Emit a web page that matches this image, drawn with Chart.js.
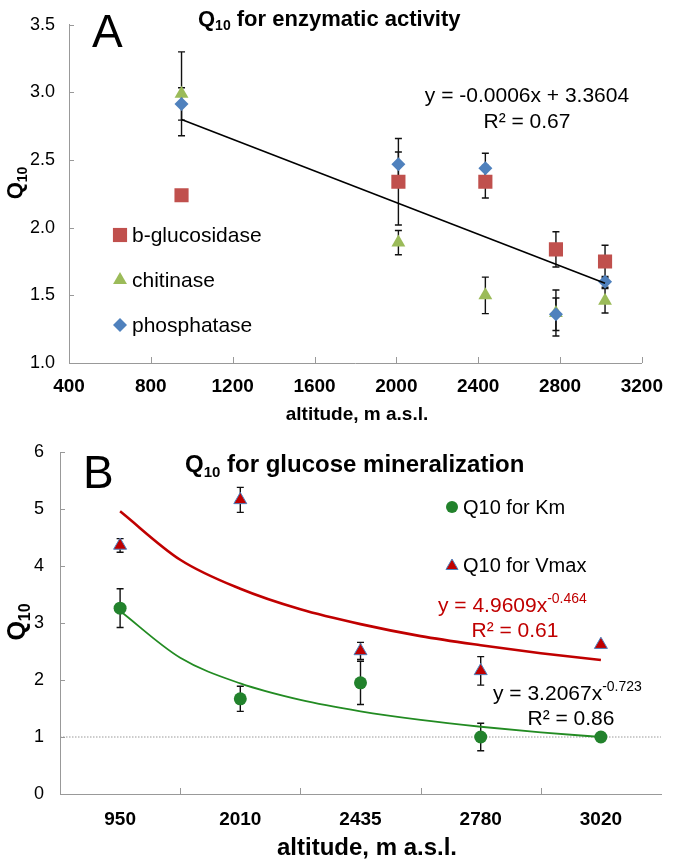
<!DOCTYPE html>
<html>
<head>
<meta charset="utf-8">
<script src="https://cdn.jsdelivr.net/npm/chart.js@4"></script>
<style>
  html, body { margin: 0; padding: 0; background: #fff; }
  #wrap { position: relative; width: 675px; height: 864px; }
  canvas { position: absolute; left: 0; }
  #chartA { top: 0; }
  #chartB { top: 425px; }
</style>
</head>
<body>
<div id="wrap">
  <canvas id="chartA" width="675" height="425"></canvas>
  <canvas id="chartB" width="675" height="439"></canvas>
</div>
<script>
const FONT = "'Liberation Sans', Arial, sans-serif";
Chart.defaults.font.family = FONT;
Chart.defaults.color = '#000';

// ---- panel A: Q10 of enzymes vs altitude
const altitudes = [950, 2010, 2435, 2780, 3020];
const glucosidase = [2.24, 2.34, 2.34, 1.84, 1.75];
const glucosidaseErr = [0, 0.32, 0.12, 0.13, 0.12];
const chitinase = [2.99, 1.89, 1.50, 1.37, 1.46];
const chitinaseErr = [0.31, 0.09, 0.135, 0.17, 0.09];
const phosphatase = [2.915, 2.47, 2.44, 1.36, 1.60];
const phosphataseErr = [0.12, 0.09, 0.11, 0.12, 0.04];
const trendX = [950, 3020];
const trendY = [2.80, 1.59];
const ticksAX = [400, 800, 1200, 1600, 2000, 2400, 2800, 3200];
const ticksAY = [1.0, 1.5, 2.0, 2.5, 3.0, 3.5];

// ---- panel B: Q10 of glucose mineralization
const sites = ['950', '2010', '2435', '2780', '3020'];
const kmQ10 = [3.26, 1.67, 1.95, 1.00, 1.00];
const kmErr = [0.34, 0.22, 0.38, 0.24, 0];
const vmaxQ10 = [4.36, 5.16, 2.51, 2.16, 2.62];
const vmaxErr = [0.12, 0.22, 0.15, 0.25, 0];
const fitPos = [1, 1.5, 2, 2.5, 3, 3.5, 4, 4.5, 5];
const vmaxFit = [4.96, 4.11, 3.60, 3.24, 2.98, 2.77, 2.61, 2.47, 2.35];
const kmFit = [3.21, 2.39, 1.94, 1.65, 1.45, 1.30, 1.18, 1.08, 1.00];
const ticksBY = [0, 1, 2, 3, 4, 5, 6];

const RED = '#C0504D', GREEN = '#9BBB59', BLUE = '#4F81BD';
const KM_GREEN = '#22822C', VMAX_RED = '#C00000';

function pts(xs, ys) {
  return xs.map((x, i) => ({ x: x, y: ys[i] }));
}

// text made of pieces: [text, size, weight, dy]
function rich(ctx, parts, x, y, align) {
  let w = 0;
  parts.forEach(p => {
    ctx.font = (p[2] || 'normal') + ' ' + p[1] + 'px ' + FONT;
    w += ctx.measureText(p[0]).width;
  });
  let cx = align === 'center' ? x - w / 2 : x;
  parts.forEach(p => {
    ctx.font = (p[2] || 'normal') + ' ' + p[1] + 'px ' + FONT;
    ctx.fillText(p[0], cx, y + (p[3] || 0));
    cx += ctx.measureText(p[0]).width;
  });
}

function marker(ctx, style, r, fill, stroke, bw, x, y) {
  ctx.save();
  ctx.fillStyle = fill;
  ctx.strokeStyle = stroke || fill;
  Chart.helpers.drawPoint(ctx, { pointStyle: style, radius: r, rotation: 0, borderWidth: bw || 0 }, x, y);
  ctx.restore();
}

const errorBars = {
  id: 'errorBars',
  beforeDatasetsDraw(chart) {
    const { ctx, scales: { x, y } } = chart;
    ctx.save();
    ctx.strokeStyle = '#111';
    ctx.lineWidth = 1.4;
    chart.data.datasets.forEach(ds => {
      if (!ds.errors) return;
      ds.data.forEach((p, i) => {
        const e = ds.errors[i];
        if (!e) return;
        const px = x.getPixelForValue(p.x);
        const top = y.getPixelForValue(p.y + e);
        const bot = y.getPixelForValue(p.y - e);
        ctx.beginPath();
        ctx.moveTo(px, top); ctx.lineTo(px, bot);
        ctx.moveTo(px - 3.5, top); ctx.lineTo(px + 3.5, top);
        ctx.moveTo(px - 3.5, bot); ctx.lineTo(px + 3.5, bot);
        ctx.stroke();
      });
    });
    ctx.restore();
  }
};

// excel style tick marks pointing into the plot
const inwardTicks = {
  id: 'inwardTicks',
  afterDraw(chart, args, opts) {
    const { ctx, chartArea: a, scales: { x, y } } = chart;
    ctx.save();
    ctx.strokeStyle = '#999';
    ctx.lineWidth = 1;
    ctx.beginPath();
    (opts.x || []).forEach(v => {
      const px = Math.round(x.getPixelForValue(v)) + 0.5;
      ctx.moveTo(px, a.bottom); ctx.lineTo(px, a.bottom - 6);
    });
    (opts.y || []).forEach(v => {
      const py = Math.round(y.getPixelForValue(v)) + 0.5;
      ctx.moveTo(a.left, py); ctx.lineTo(a.left + 5, py);
    });
    ctx.stroke();
    ctx.restore();
  }
};

const notesA = {
  id: 'notesA',
  afterDraw(chart) {
    const ctx = chart.ctx;
    ctx.save();
    ctx.fillStyle = '#000';
    ctx.textAlign = 'left';
    ctx.textBaseline = 'alphabetic';
    rich(ctx, [['A', 46]], 92, 47);
    rich(ctx, [['Q', 22, 'bold'], ['10', 14, 'bold', 4], [' for enzymatic activity', 22, 'bold']], 198, 26);
    rich(ctx, [['y = -0.0006x + 3.3604', 21]], 527, 102, 'center');
    rich(ctx, [['R² = 0.67', 21]], 527, 128, 'center');
    rich(ctx, [['altitude, m a.s.l.', 19, 'bold']], 357, 420, 'center');

    ctx.save();
    ctx.translate(22, 183);
    ctx.rotate(-Math.PI / 2);
    rich(ctx, [['Q', 22, 'bold'], ['10', 14, 'bold', 5]], 0, 0, 'center');
    ctx.restore();

    // legend
    const rows = [
      ['b-glucosidase', 'rect', 10, RED, 235],
      ['chitinase', 'triangle', 8, GREEN, 280],
      ['phosphatase', 'rectRot', 7, BLUE, 325]
    ];
    rows.forEach(r => {
      marker(ctx, r[1], r[2], r[3], null, 0, 120, r[4]);
      ctx.fillStyle = '#000';
      ctx.textBaseline = 'middle';
      rich(ctx, [[r[0], 21]], 132, r[4] + 1);
      ctx.textBaseline = 'alphabetic';
    });
    ctx.restore();
  }
};

const notesB = {
  id: 'notesB',
  afterDraw(chart) {
    const ctx = chart.ctx;
    ctx.save();
    ctx.fillStyle = '#000';
    ctx.textAlign = 'left';
    ctx.textBaseline = 'alphabetic';
    rich(ctx, [['B', 46]], 83, 63);
    rich(ctx, [['Q', 24, 'bold'], ['10', 15, 'bold', 5], [' for glucose mineralization', 24, 'bold']], 185, 47);
    rich(ctx, [['altitude, m a.s.l.', 24, 'bold']], 367, 430, 'center');

    ctx.save();
    ctx.translate(25, 197);
    ctx.rotate(-Math.PI / 2);
    rich(ctx, [['Q', 25, 'bold'], ['10', 16, 'bold', 5]], 0, 0, 'center');
    ctx.restore();

    // legend
    marker(ctx, 'circle', 6, KM_GREEN, null, 0, 452, 82);
    marker(ctx, 'triangle', 7, VMAX_RED, BLUE, 1, 452, 141);
    ctx.fillStyle = '#000';
    ctx.textBaseline = 'middle';
    rich(ctx, [['Q10 for Km', 20]], 463, 83);
    rich(ctx, [['Q10 for Vmax', 20]], 463, 141);
    ctx.textBaseline = 'alphabetic';

    ctx.fillStyle = VMAX_RED;
    rich(ctx, [['y = 4.9609x', 21], ['-0.464', 14, 'normal', -9]], 438, 187);
    rich(ctx, [['R² = 0.61', 21]], 515, 212, 'center');
    ctx.fillStyle = '#000';
    rich(ctx, [['y = 3.2067x', 21], ['-0.723', 14, 'normal', -9]], 493, 275);
    rich(ctx, [['R² = 0.86', 21]], 571, 300, 'center');
    ctx.restore();
  }
};

new Chart(document.getElementById('chartA'), {
  type: 'scatter',
  data: {
    datasets: [
      {
        type: 'line', label: 'trend', data: pts(trendX, trendY),
        borderColor: '#000', borderWidth: 1.6, pointRadius: 0, order: 0
      },
      {
        label: 'phosphatase', data: pts(altitudes, phosphatase), errors: phosphataseErr,
        pointStyle: 'rectRot', pointRadius: 7, backgroundColor: BLUE, borderColor: BLUE, borderWidth: 0, order: 1
      },
      {
        label: 'chitinase', data: pts(altitudes, chitinase), errors: chitinaseErr,
        pointStyle: 'triangle', pointRadius: 8, backgroundColor: GREEN, borderColor: GREEN, borderWidth: 0, order: 2
      },
      {
        label: 'b-glucosidase', data: pts(altitudes, glucosidase), errors: glucosidaseErr,
        pointStyle: 'rect', pointRadius: 10, backgroundColor: RED, borderColor: RED, borderWidth: 0, order: 3
      }
    ]
  },
  options: {
    responsive: false,
    animation: false,
    events: [],
    layout: { autoPadding: false, padding: { top: 8, right: 30, left: 0, bottom: 0 } },
    plugins: {
      legend: { display: false },
      tooltip: { enabled: false },
      inwardTicks: { x: ticksAX, y: ticksAY }
    },
    scales: {
      x: {
        type: 'linear', min: 400, max: 3200,
        ticks: { stepSize: 400, padding: 12, autoSkip: false, maxRotation: 0, font: { size: 19, weight: 'bold' }, callback: v => String(v) },
        grid: { display: false, drawTicks: false },
        border: { color: '#999' },
        afterFit: s => { s.height = 62; }
      },
      y: {
        min: 1, max: 3.5,
        ticks: { stepSize: 0.5, padding: 14, font: { size: 18 }, callback: v => v.toFixed(1) },
        grid: { display: false, drawTicks: false },
        border: { color: '#999' },
        afterFit: s => { s.width = 69; }
      }
    }
  },
  plugins: [errorBars, inwardTicks, notesA]
});

new Chart(document.getElementById('chartB'), {
  type: 'scatter',
  data: {
    datasets: [
      {
        label: 'Q10 for Vmax', data: pts(sites.map((s, i) => i + 1), vmaxQ10), errors: vmaxErr,
        pointStyle: 'triangle', pointRadius: 7.5, backgroundColor: VMAX_RED, borderColor: BLUE, borderWidth: 1, order: 1
      },
      {
        label: 'Q10 for Km', data: pts(sites.map((s, i) => i + 1), kmQ10), errors: kmErr,
        pointStyle: 'circle', pointRadius: 6.5, backgroundColor: KM_GREEN, borderColor: KM_GREEN, borderWidth: 0, order: 2
      },
      {
        type: 'line', label: 'Vmax fit', data: pts(fitPos, vmaxFit),
        borderColor: VMAX_RED, borderWidth: 2.6, pointRadius: 0, cubicInterpolationMode: 'monotone', order: 3
      },
      {
        type: 'line', label: 'Km fit', data: pts(fitPos, kmFit),
        borderColor: '#228B22', borderWidth: 1.8, pointRadius: 0, cubicInterpolationMode: 'monotone', order: 4
      },
      {
        type: 'line', label: 'Q10 = 1', data: [{ x: 0.5, y: 1 }, { x: 5.5, y: 1 }],
        borderColor: '#999', borderWidth: 1, borderDash: [1.5, 1.5], pointRadius: 0, order: 5
      }
    ]
  },
  options: {
    responsive: false,
    animation: false,
    events: [],
    layout: { autoPadding: false, padding: { top: 27, right: 0, left: 0, bottom: 0 } },
    plugins: {
      legend: { display: false },
      tooltip: { enabled: false },
      inwardTicks: { x: sites.slice(1).map((s, i) => i + 1.5), y: ticksBY }
    },
    scales: {
      x: {
        type: 'linear', min: 0.5, max: 5.5,
        ticks: {
          stepSize: 0.5, padding: 14, autoSkip: false, maxRotation: 0, font: { size: 19, weight: 'bold' },
          callback: v => Math.abs(v - Math.round(v)) < 1e-6 ? sites[Math.round(v) - 1] : ''
        },
        grid: { display: false, drawTicks: false },
        border: { color: '#999' },
        afterFit: s => { s.height = 70; }
      },
      y: {
        min: 0, max: 6,
        ticks: { stepSize: 1, padding: 16, font: { size: 18 } },
        grid: { display: false, drawTicks: false },
        border: { color: '#999' },
        afterFit: s => { s.width = 60; }
      }
    }
  },
  plugins: [errorBars, inwardTicks, notesB]
});
</script>
</body>
</html>
